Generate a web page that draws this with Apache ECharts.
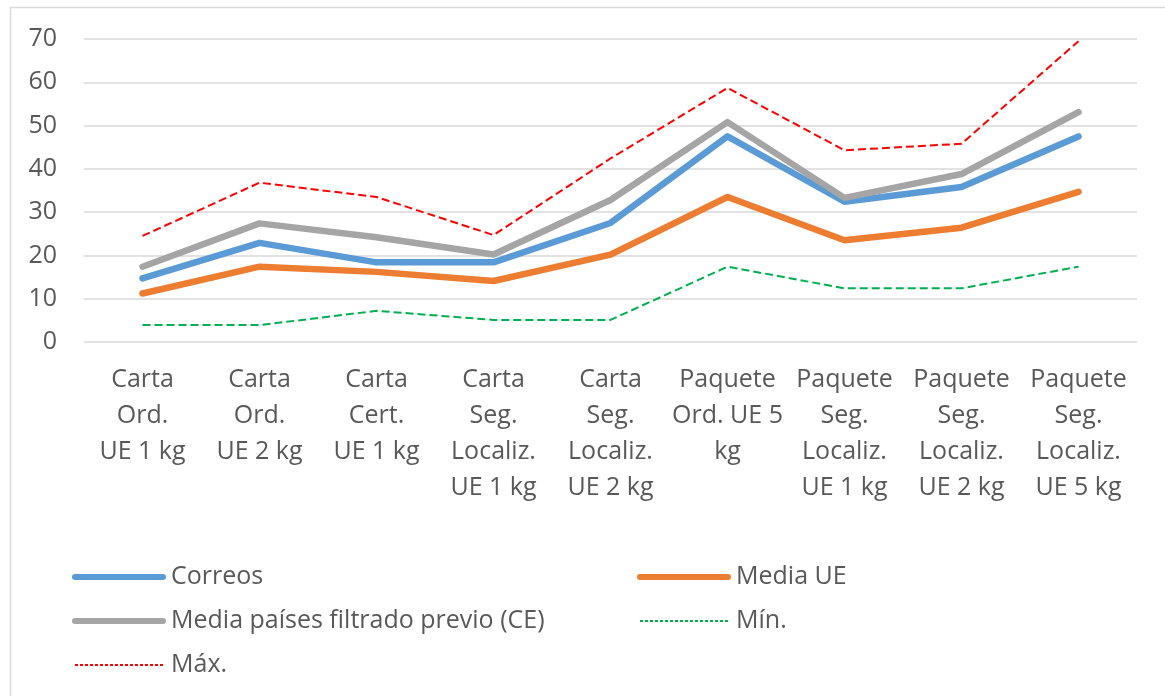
<!DOCTYPE html>
<html>
<head>
<meta charset="utf-8">
<script src="https://cdn.jsdelivr.net/npm/echarts@6/dist/echarts.min.js"></script>
<style>
html,body{margin:0;padding:0;background:#fff;}
#chart{width:1165px;height:696px;}
</style>
</head>
<body>
<div id="chart"></div>
<script>
const categories = [
  "Carta\nOrd.\nUE 1 kg",
  "Carta\nOrd.\nUE 2 kg",
  "Carta\nCert.\nUE 1 kg",
  "Carta\nSeg.\nLocaliz.\nUE 1 kg",
  "Carta\nSeg.\nLocaliz.\nUE 2 kg",
  "Paquete\nOrd. UE 5\nkg",
  "Paquete\nSeg.\nLocaliz.\nUE 1 kg",
  "Paquete\nSeg.\nLocaliz.\nUE 2 kg",
  "Paquete\nSeg.\nLocaliz.\nUE 5 kg"
];
const correos   = [14.7, 22.9, 18.4, 18.4, 27.5, 47.5, 32.4, 35.8, 47.5];
const mediaUE   = [11.2, 17.4, 16.2, 14.1, 20.2, 33.5, 23.5, 26.4, 34.7];
const mediaCE   = [17.4, 27.4, 24.2, 20.2, 32.8, 50.8, 33.3, 38.8, 53.1];
const minVals   = [3.9, 3.9, 7.2, 5.1, 5.1, 17.4, 12.4, 12.4, 17.4];
const maxVals   = [24.5, 36.8, 33.5, 24.7, 42.4, 58.7, 44.3, 45.8, 69.5];

const FONT = "Open Sans";
const TXT = "#595959";
const FS = 25;

function solid(name, data, color) {
  return {
    name: name, type: 'line', data: data, symbol: 'none', smooth: false,
    lineStyle: { color: color, width: 6.5, cap: 'round', join: 'round' },
    itemStyle: { color: color }
  };
}
function dashed(name, data, color) {
  return {
    name: name, type: 'line', data: data, symbol: 'none', smooth: false,
    lineStyle: { color: color, width: 2, type: [8, 4] },
    itemStyle: { color: color }
  };
}
function solidItem(name) { return { name: name, lineStyle: { width: 6, cap: 'round' } }; }
function dashItem(name) { return { name: name, lineStyle: { width: 2, type: [3, 2] } }; }

const legendText = { color: TXT, fontFamily: FONT, fontSize: FS, lineHeight: 30, padding: [0, 0, 0, 3] };

const chart = echarts.init(document.getElementById('chart'), null, { renderer: 'canvas' });
chart.setOption({
  animation: false,
  backgroundColor: '#ffffff',
  textStyle: { fontFamily: FONT },
  graphic: [{
    type: 'rect', left: 8, top: 5, silent: true,
    shape: { width: 1170, height: 700 },
    style: { fill: 'none', stroke: '#d9d9d9', lineWidth: 1.5 }
  }],
  grid: { left: 84, right: 28, top: 39, bottom: 354, containLabel: false },
  xAxis: {
    type: 'category', data: categories, boundaryGap: true,
    axisLine: { show: false }, axisTick: { show: false },
    axisLabel: { color: TXT, fontFamily: FONT, fontSize: FS, lineHeight: 36, margin: 20, interval: 0 }
  },
  yAxis: {
    type: 'value', min: 0, max: 70, interval: 10,
    axisLine: { show: false }, axisTick: { show: false },
    axisLabel: { color: TXT, fontFamily: FONT, fontSize: FS, margin: 27 },
    splitLine: { lineStyle: { color: '#d9d9d9', width: 1.5 } }
  },
  legend: [
    {
      left: 72, top: 562, padding: 0, orient: 'vertical', itemWidth: 88, itemHeight: 14, itemGap: 14,
      itemStyle: { opacity: 0 },
      data: [solidItem('Correos'), solidItem('Media países filtrado previo (CE)'), dashItem('Máx.')],
      textStyle: legendText
    },
    {
      left: 637, top: 562, padding: 0, orient: 'vertical', itemWidth: 88, itemHeight: 14, itemGap: 14,
      itemStyle: { opacity: 0 },
      data: [solidItem('Media UE'), dashItem('Mín.')],
      textStyle: legendText
    }
  ],
  series: [
    solid('Correos', correos, '#5B9BD5'),
    solid('Media UE', mediaUE, '#ED7D31'),
    solid('Media países filtrado previo (CE)', mediaCE, '#A5A5A5'),
    dashed('Mín.', minVals, '#00B050'),
    dashed('Máx.', maxVals, '#FF0000')
  ]
});
</script>
</body>
</html>
